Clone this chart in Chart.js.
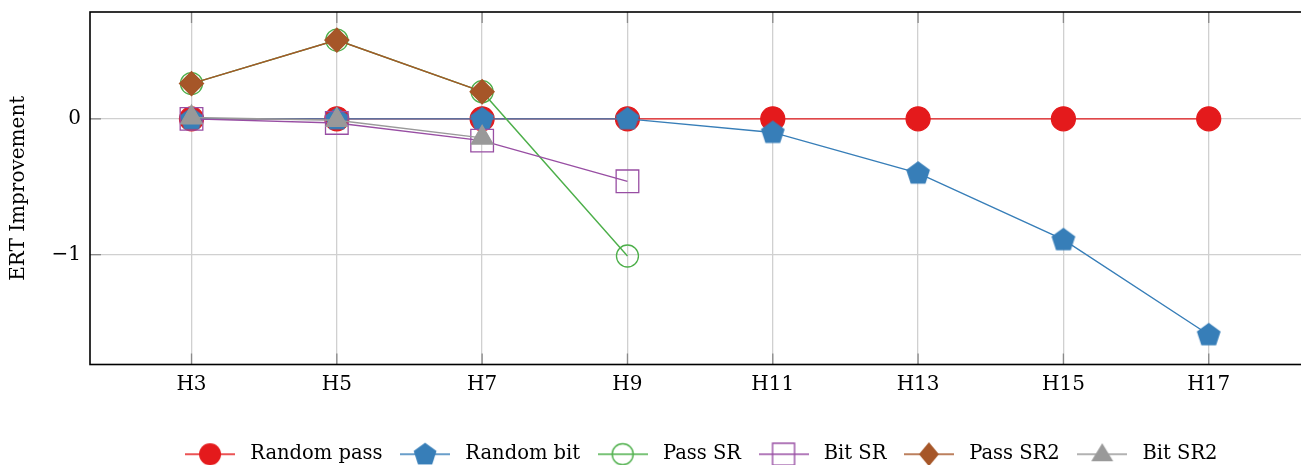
<!DOCTYPE html>
<html>
<head>
<meta charset="utf-8">
<script src="https://cdn.jsdelivr.net/npm/chart.js@4"></script>
<style>
  body { margin: 0; background: #fff; }
  #wrap { width: 1301px; height: 465px; }
</style>
</head>
<body>
<div id="wrap"><canvas id="grafico" width="1301" height="465"></canvas></div>
<script>
// datos
const etiquetas = ['H3', 'H5', 'H7', 'H9', 'H11', 'H13', 'H15', 'H17'];
const ticksY = [-1, 0];

const randomPass = [0, 0, 0, 0, 0, 0, 0, 0];
const randomBit  = [0, 0, 0, 0, -0.1, -0.4, -0.89, -1.59];
const passSR     = [0.26, 0.58, 0.2, -1.01, null, null, null, null];
const bitSR      = [0, -0.03, -0.16, -0.46, null, null, null, null];
const passSR2    = [0.26, 0.58, 0.2, null, null, null, null, null];
const bitSR2     = [0.01, -0.01, -0.14, null, null, null, null, null];

const ROJO = '#e41a1c', AZUL = '#377eb8', VERDE = '#4daf4a',
      VIOLETA = '#984ea3', MARRON = '#a65628', GRIS = '#999999';

const FUENTE = 'DejaVu Serif';

const xs = etiquetas.map(e => Number(e.slice(1)));
const puntos = (serie) => serie.map((y, i) => ({x: xs[i], y})).filter(p => p.y !== null);

// pentágono (no existe en chart.js)
const trazarPentagono = (ctx, cx, cy, r) => {
  ctx.beginPath();
  for (let k = 0; k < 5; k++) {
    const a = -Math.PI / 2 + k * 2 * Math.PI / 5;
    const px = cx + r * Math.cos(a), py = cy + r * Math.sin(a);
    if (k === 0) ctx.moveTo(px, py); else ctx.lineTo(px, py);
  }
  ctx.closePath();
};

const pentagono = document.createElement('canvas');
pentagono.width = 28; pentagono.height = 28;
{
  const c = pentagono.getContext('2d');
  c.fillStyle = AZUL;
  trazarPentagono(c, 14, 14.5, 12.5);
  c.fill();
}

// marcador para la leyenda: línea + símbolo
const marcaLeyenda = (tipo, color) => {
  const cv = document.createElement('canvas');
  cv.width = 50; cv.height = 26;
  const c = cv.getContext('2d');
  const cx = 25, cy = 13;
  c.strokeStyle = color; c.fillStyle = color; c.lineWidth = 1.4;
  c.beginPath(); c.moveTo(0, cy); c.lineTo(50, cy); c.stroke();
  c.beginPath();
  if (tipo === 'circulo') { c.arc(cx, cy, 11, 0, 2 * Math.PI); c.fill(); }
  if (tipo === 'pentagono') { trazarPentagono(c, cx, cy + 0.5, 12); c.fill(); }
  if (tipo === 'abierto') { c.arc(cx, cy, 10.5, 0, 2 * Math.PI); c.stroke(); }
  if (tipo === 'cuadrado') { c.rect(cx - 11, cy - 11, 22, 22); c.stroke(); }
  if (tipo === 'rombo') { c.moveTo(cx, cy - 12); c.lineTo(cx + 10, cy); c.lineTo(cx, cy + 12); c.lineTo(cx - 10, cy); c.closePath(); c.fill(); }
  if (tipo === 'triangulo') { c.moveTo(cx, cy - 11); c.lineTo(cx + 11, cy + 7); c.lineTo(cx - 11, cy + 7); c.closePath(); c.fill(); }
  return cv;
};

const leyendas = [
  marcaLeyenda('circulo', ROJO),
  marcaLeyenda('pentagono', AZUL),
  marcaLeyenda('abierto', VERDE),
  marcaLeyenda('cuadrado', VIOLETA),
  marcaLeyenda('rombo', MARRON),
  marcaLeyenda('triangulo', GRIS),
];

const serie = (label, datos, color, estilo, radio, relleno, orden) => ({
  label,
  data: puntos(datos),
  borderColor: color,
  backgroundColor: color,
  borderWidth: 1.4,
  pointStyle: estilo,
  pointRadius: radio,
  pointHoverRadius: radio,
  pointBackgroundColor: relleno,
  pointBorderColor: color,
  pointBorderWidth: 1.3,
  tension: 0,
  order: orden,
});

// marco negro, marcas de los ticks y leyenda centrada bajo el eje
const marco = {
  id: 'marco',
  afterLayout(chart) {
    chart.legend.top += 9;
    chart.legend.bottom += 9;
    chart.legend.left += 48;
    chart.legend.right += 48;
  },
  beforeDatasetsDraw(chart) {
    const {ctx, chartArea: a, scales} = chart;
    ctx.save();
    ctx.strokeStyle = '#8a8a8a';
    ctx.lineWidth = 1.3;
    scales.x.ticks.forEach(t => {
      const px = scales.x.getPixelForValue(t.value);
      ctx.beginPath();
      ctx.moveTo(px, a.top); ctx.lineTo(px, a.top + 11);
      ctx.moveTo(px, a.bottom); ctx.lineTo(px, a.bottom - 11);
      ctx.stroke();
    });
    scales.y.ticks.forEach(t => {
      const py = scales.y.getPixelForValue(t.value);
      ctx.beginPath();
      ctx.moveTo(a.left, py); ctx.lineTo(a.left + 11, py);
      ctx.stroke();
    });
    ctx.strokeStyle = '#000';
    ctx.lineWidth = 1.6;
    ctx.strokeRect(a.left, a.top, a.right - a.left + 20, a.bottom - a.top);
    ctx.restore();
  }
};

const grafico = new Chart(document.getElementById('grafico'), {
  type: 'line',
  data: {
    datasets: [
      serie('Random pass', randomPass, ROJO, 'circle', 12, ROJO, 6),
      serie('Random bit', randomBit, AZUL, pentagono, 12, AZUL, 5),
      serie('Pass SR', passSR, VERDE, 'circle', 11, 'rgba(0,0,0,0)', 4),
      serie('Bit SR', bitSR, VIOLETA, 'rect', 16, 'rgba(0,0,0,0)', 3),
      serie('Pass SR2', passSR2, MARRON, 'rectRot', 12, MARRON, 2),
      serie('Bit SR2', bitSR2, GRIS, 'triangle', 12.5, GRIS, 1),
    ]
  },
  options: {
    responsive: false,
    animation: false,
    layout: { autoPadding: false, padding: { top: 12, left: 0, right: 0, bottom: 0 } },
    scales: {
      x: {
        type: 'linear',
        min: 1.603,
        max: 18.27,
        afterBuildTicks: (s) => { s.ticks = xs.map(v => ({value: v})); },
        afterFit: (s) => { s.height = 59; s.paddingLeft = 0; s.paddingRight = 0; },
        ticks: {
          callback: (v) => 'H' + v,
          font: { family: FUENTE, size: 20 },
          color: '#000',
          padding: 8,
          maxRotation: 0,
          autoSkip: false,
        },
        grid: { color: '#d0d0d0', lineWidth: 1.3, drawTicks: false },
        border: { display: false },
      },
      y: {
        min: -1.809,
        max: 0.787,
        afterBuildTicks: (s) => { s.ticks = ticksY.map(v => ({value: v})); },
        afterFit: (s) => { s.width = 90; s.paddingTop = 0; s.paddingBottom = 0; },
        ticks: {
          callback: (v) => v < 0 ? '\u2212' + Math.abs(v) : String(v),
          font: { family: FUENTE, size: 20 },
          color: '#000',
          padding: 9,
        },
        grid: { color: '#d0d0d0', lineWidth: 1.3, drawTicks: false },
        border: { display: false },
        title: {
          display: true,
          text: 'ERT Improvement',
          font: { family: FUENTE, size: 20 },
          color: '#000',
          padding: { top: 7, bottom: 0 },
        },
      },
    },
    plugins: {
      tooltip: { enabled: false },
      legend: {
        position: 'bottom',
        labels: {
          usePointStyle: true,
          pointStyleWidth: 61,
          padding: 12,
          color: '#000',
          font: { family: FUENTE, size: 19.5 },
          generateLabels: (chart) => {
            const items = Chart.defaults.plugins.legend.labels.generateLabels(chart);
            items.sort((a, b) => a.datasetIndex - b.datasetIndex);
            items.forEach(it => { it.pointStyle = leyendas[it.datasetIndex]; });
            return items;
          },
        },
      },
    },
  },
  plugins: [marco],
});
</script>
</body>
</html>
